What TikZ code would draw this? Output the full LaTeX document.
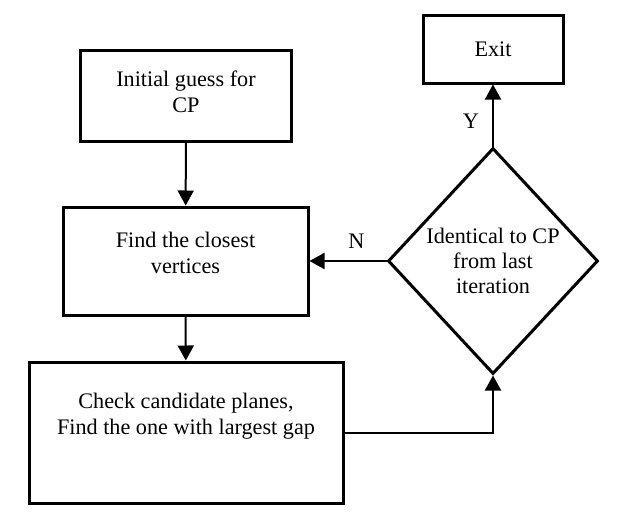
\documentclass[tikz,border=0pt]{standalone}
\usepackage{fontspec}
\setmainfont{Liberation Serif}
\usetikzlibrary{arrows.meta, shapes.geometric, positioning}

\tikzset{
  stepbox/.style={draw, rectangle, line width=3pt, inner sep=0pt, align=center,
    font=\fontsize{22.2}{26}\selectfont},
  decision/.style={draw, diamond, line width=3pt, inner sep=0pt, align=center,
    minimum width=210pt, minimum height=226pt, font=\fontsize{22.2}{25}\selectfont},
  flow/.style={line width=2pt, -{Triangle[length=15pt, width=16pt]}},
  tag/.style={font=\fontsize{22.2}{26}\selectfont, inner sep=0pt}
}

\begin{document}
\begin{tikzpicture}[x=1pt, y=-1pt]
  \useasboundingbox (0, 0) rectangle (623, 530);

  \node[stepbox, minimum width=211pt, minimum height=91pt,
    label={[tag, align=center, yshift=4pt]center:Initial guess for\\CP}] (init) at (186, 95.5) {};
  \node[stepbox, minimum width=245pt, minimum height=108pt,
    label={[tag, align=center, yshift=8.5pt]center:Find the closest\\vertices}] (find) at (185.5, 261) {};
  \node[stepbox, minimum width=314pt, minimum height=141pt,
    label={[tag, align=center, yshift=16.5pt]center:Check candidate planes,\\Find the one with largest gap}] (check) at (186, 432.5) {};
  \node[decision] (same) at (493, 261) {Identical to CP\\from last\\iteration};
  \node[stepbox, minimum width=140pt, minimum height=68pt] (exit) at (493, 49) {Exit};

  \draw[flow] (init) -- (find);
  \draw[flow] (find) -- (check);
  \draw[flow] (check.east) -| (same.south);
  \draw[flow] (same.west) -- node[tag, pos=0.39, above=12pt] {N} (find.east);
  \draw[flow] (same.north) -- node[tag, pos=0.4, left=13pt] {Y} (exit.south);
\end{tikzpicture}
\end{document}
